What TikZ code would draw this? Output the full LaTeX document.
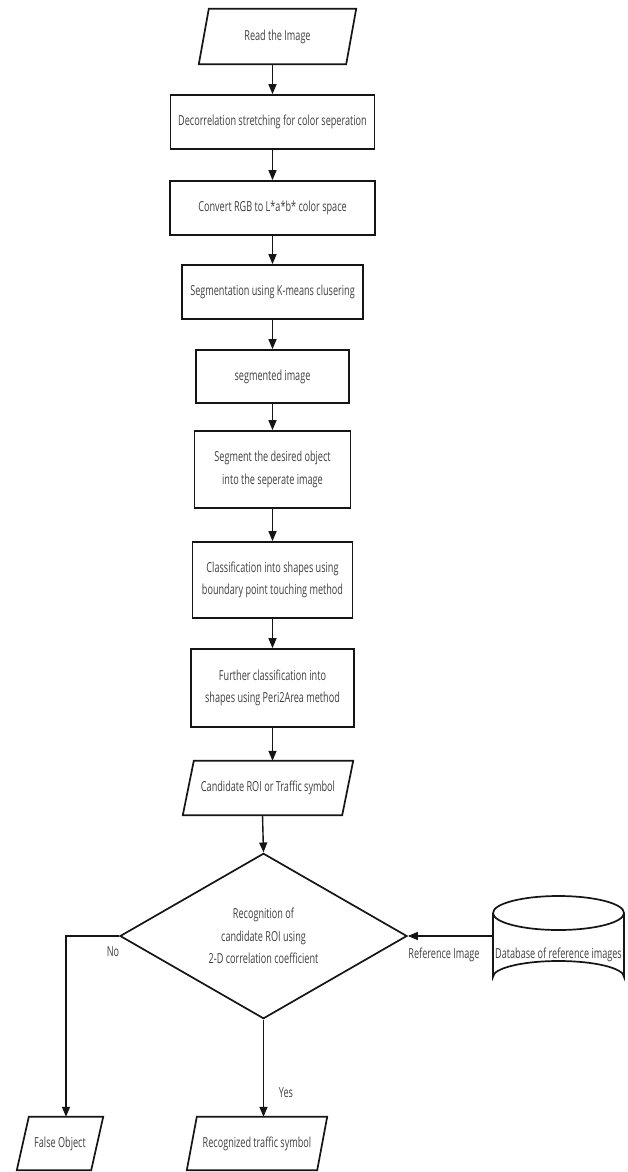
\documentclass[tikz,border=0pt]{standalone}
\usepackage{fontspec}
\setmainfont{Open Sans}[FakeStretch=0.66]
\usetikzlibrary{arrows.meta,shapes.geometric}
\definecolor{txt}{HTML}{404040}
\definecolor{ln}{HTML}{151515}
\tikzset{
  shapeline/.style={draw=ln, line width=1.7pt},
  procbox/.style={shapeline, rectangle, inner sep=0pt, align=center, text=txt,
    font=\fontsize{13.8}{22.5}\selectfont},
  iobox/.style={rectangle, inner sep=0pt, align=center, text=txt,
    font=\fontsize{13.8}{22.5}\selectfont},
  lbl/.style={text=txt, font=\fontsize{13.8}{22.5}\selectfont, inner sep=0pt},
  arr/.style={draw=ln, line width=1.4pt, -{Triangle[length=10pt,width=8pt]}},
}
\newcommand{\drawpara}[2]{%
  \draw[shapeline] ([xshift=#2/2]#1.north west) -- ([xshift=#2/2]#1.north east)
    -- ([xshift=-#2/2]#1.south east) -- ([xshift=-#2/2]#1.south west) -- cycle;}
\begin{document}
\begin{tikzpicture}[x=1pt,y=-1pt]
\fill[white] (0,0) rectangle (628,1172);
\useasboundingbox (0,0) rectangle (628,1172);

\node[iobox, minimum width=147pt, minimum height=55pt] (p1) at (277.5,36.5) {Read the Image};
\drawpara{p1}{10}
\node[procbox, minimum width=204pt, minimum height=54pt] (b2) at (272.5,122) {Decorrelation stretching for color seperation};
\node[procbox, minimum width=205pt, minimum height=54pt] (b3) at (272.5,208) {Convert RGB to L*a*b* color space};
\node[procbox, minimum width=181pt, minimum height=54pt] (b4) at (272.5,292) {Segmentation using K-means clusering};
\node[procbox, minimum width=153pt, minimum height=53pt] (b5) at (272.5,376.5) {segmented image};
\node[procbox, minimum width=156pt, minimum height=77pt] (b6) at (272.5,469.5) {Segment the desired object\\into the seperate image};
\node[procbox, minimum width=160pt, minimum height=76pt] (b7) at (272.5,580) {Classification into shapes using\\boundary point touching method};
\node[procbox, minimum width=163pt, minimum height=78pt] (b8) at (272.5,688) {Further classification into\\shapes using Peri2Area method};
\node[iobox, minimum width=159pt, minimum height=54pt] (p9) at (268,788) {Candidate ROI or Traffic symbol};
\drawpara{p9}{11}

\node[diamond, shapeline, minimum width=287pt, minimum height=160pt, inner sep=0pt,
  align=center, text=txt, font=\fontsize{13.8}{22.5}\selectfont] (d) at (263.5,936)
  {Recognition of\\candidate ROI using\\2-D correlation coefficient};

% database cylinder
\node[rectangle, minimum width=131pt, minimum height=98pt, inner sep=0pt] (db) at (558.5,944) {};
\draw[shapeline] (493,913) arc[start angle=180, end angle=0, x radius=65.5, y radius=17]
  arc[start angle=0, end angle=-180, x radius=65.5, y radius=17];
\draw[shapeline] (493,913) -- (493,977)
  arc[start angle=180, end angle=360, x radius=65.5, y radius=16] -- (624,913);
\node[lbl] (dbt) at (558.5,955) {Database of reference images};

\node[iobox, minimum width=74pt, minimum height=53pt] (fo) at (60,1143.5) {False Object};
\drawpara{fo}{12}
\node[iobox, minimum width=130pt, minimum height=53pt] (rs) at (257,1143.5) {Recognized traffic symbol};
\drawpara{rs}{10}

% connectors
\draw[arr] ([xshift=-5]p1.south) -- (b2.north);
\draw[arr] (b2) -- (b3);
\draw[arr] (b3) -- (b4);
\draw[arr] (b4) -- (b5);
\draw[arr] (b5) -- (b6);
\draw[arr] (b6) -- (b7);
\draw[arr] (b7) -- (b8);
\draw[arr] (b8.south) -- (b8.south |- p9.north);
\draw[arr] ([xshift=-5.5]p9.south) -- (d.north);
\draw[arr] (db.west |- d.east) -- (d.east);
\draw[arr] (d.west) -| ([xshift=6]fo.north);
\draw[arr] (d.south) -- (d.south |- rs.north);

\node[lbl] (no) at (113,952) {No};
\node[lbl] (yes) at (286,1093) {Yes};
\node[lbl] (ref) at (444,955) {Reference Image};
\end{tikzpicture}
\end{document}
